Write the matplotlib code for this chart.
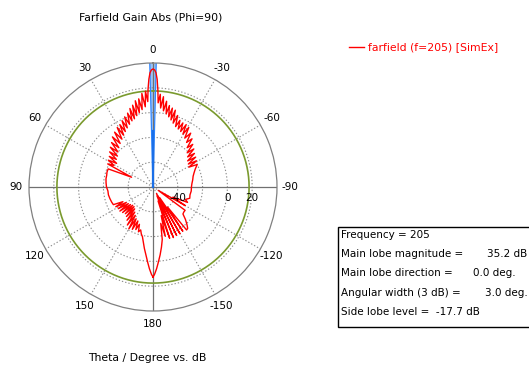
import numpy as np
import matplotlib.pyplot as plt
from matplotlib.patches import Rectangle

# farfield cut (phi=90), theta in degrees, gain in dB
theta_deg = [
    -180, -179, -177.5, -176, -174, -172, -170, -168, -166, -164, -162, -160,
    -158, -156, -154, -152, -150, -148, -146, -144, -142, -140, -138, -135,
    -132, -129, -126, -123, -120, -117, -114, -111, -107, -102, -96, -90,
    -85, -80, -75, -71, -67, -63, -61, -59, -57, -55, -53, -51, -49, -47,
    -45, -43, -41, -39, -37, -35, -33, -31, -29.5, -28, -26.5, -25, -23.5,
    -22, -20.5, -19, -17.5, -16.2, -15, -13.8, -12.6, -11.4, -10.2, -9,
    -7.8, -6.6, -5.5, -4.5, -3.5, -2.9, -2.2, -1.5, -0.8, 0,
    0.8, 1.5, 2.2, 2.9, 3.5, 4.5, 5.5, 6.8, 8, 9.2, 10.4, 11.6, 12.8, 14,
    15.2, 16.4, 17.6, 19, 20.5, 22, 23.5, 25, 26.5, 28, 29.5, 31, 33, 35,
    37, 39, 41, 43, 45, 47, 49, 51, 53, 55, 57, 59, 61, 63, 65.5, 68, 72,
    76, 80, 85, 90, 95, 100, 105, 110, 114, 116, 118, 120, 122, 124, 126,
    128, 130, 132, 134, 136, 138, 140, 142, 144, 146, 148, 150, 152, 154,
    156, 158, 160, 162, 164, 166, 168, 170, 172, 174, 176, 177.5, 179, 180,
]
gain_db = [
    12.6, 10.5, 6, 1, -5, -11, -17, -30, -19, -36, -16.5, -48,
    -16, -52, -16.5, -54, -16.5, -50, -17, -40, -16, -16.5, -19, -23,
    -27.5, -28, -28, -55, -30, -42, -29.5, -32, -29, -29.5, -29, -29,
    -28.5, -27.5, -26.5, -25, -23, -20, -27, -19, -26, -18, -25, -17, -23, -15,
    -21, -13, -18, -10, -15, -7, -13, -4, -11, -3, -10, -3, -9,
    -2, -8, 1, -6, 4.5, -4, 5.5, -2, 7, 0, 10,
    2, 13.3, 4, 15, 8, 18, 27, 32.2, 34.4, 35.2,
    34.4, 32.2, 27, 19, 9, 17.5, 5, 16, 3, 12, 1, 11, -1, 8,
    -3, 6, -4, 3, -6, 1, -8, -1, -10, -3, -12, -4, -14, -6,
    -16, -8, -18, -11, -20, -13, -22, -15, -23, -17, -25, -18, -24, -19, -41, -21, -21,
    -21.5, -21.5, -22, -22.5, -23.5, -23.5, -24, -24.5, -25, -33, -26, -35, -27, -36, -27,
    -37, -28, -38, -29, -38, -28, -37, -26, -35, -23, -33, -21, -31, -22,
    -30, -23, -28, -22, -24, -21, -19, -15, -10, -5, 1, 6, 10.5, 12.6,
]

main_lobe_db = 35.2
side_lobe_rel = -17.7
beam_width = 3.0

r_min, r_max = -60, 40
ring_values = [-40, -20, 0, 20]
ring_labels = ['-40', '', '0', '20']
theta_ticks = [0, 30, 60, 90, 120, 150, 180, -150, -120, -90, -60, -30]

info_labels = ['Frequency = 205', 'Main lobe magnitude =', 'Main lobe direction =',
               'Angular width (3 dB) =', 'Side lobe level =  -17.7 dB']
info_values = ['', '35.2 dB', '0.0 deg.', '3.0 deg.', '']
info_value_x = [0, 487, 473, 485, 0]

fs = 7.5
fs_title = 7.8
W, H = 529, 370
fig = plt.figure(figsize=(W / 100, H / 100), dpi=100)
ax = fig.add_axes([29 / W, 59 / H, 248 / W, 248 / H], projection='polar')
ax.set_theta_zero_location('N')
ax.set_theta_direction(1)
ax.set_ylim(r_min, r_max)
ax.set_xticks([])
ax.set_yticks([])
ax.grid(False)
ax.spines['polar'].set_color('#808080')
ax.spines['polar'].set_linewidth(0.9)

circ = np.linspace(0, 2 * np.pi, 361)
for rv in ring_values:
    ax.plot(circ, np.full_like(circ, rv), color='#8c8c8c', lw=0.8, ls=(0, (1.2, 1.8)))
for t in theta_ticks:
    if t % 90 == 0:
        continue
    ax.plot([np.deg2rad(t)] * 2, [r_min, r_max], color='#8c8c8c', lw=0.8, ls=(0, (1.2, 1.8)))
for t in [0, 90, 180, 270]:
    ax.plot([np.deg2rad(t)] * 2, [r_min, r_max], color='#707070', lw=0.9)

# side lobe level circle
sll = main_lobe_db + side_lobe_rel
ax.plot(circ, np.full_like(circ, sll), color='#7a9a2e', lw=1.2)

# beam width wedge and main lobe direction
hw = np.deg2rad(beam_width / 2)
ax.fill([-hw, hw, hw, -hw], [r_min, r_min, r_max, r_max], color='#9cc2f5', lw=0)
ax.plot([-hw, -hw], [r_min, r_max], color='#2f86ff', lw=0.9)
ax.plot([hw, hw], [r_min, r_max], color='#2f86ff', lw=0.9)
ax.plot([0, 0], [r_min, -15], color='#1a6fe8', lw=1.6)

ax.plot(np.deg2rad(theta_deg), gain_db, color='red', lw=1.0)

for t in theta_ticks:
    ax.text(np.deg2rad(t), 50.5, str(t), ha='center', va='center', fontsize=fs, clip_on=False)
for rv, lab in zip(ring_values, ring_labels):
    ax.annotate(lab, (np.deg2rad(-90), rv), xytext=(0, -4), textcoords='offset points',
                ha='center', va='top', fontsize=fs)

fig.text(151 / W, 1 - 17 / H, 'Farfield Gain Abs (Phi=90)', ha='center', va='center', fontsize=fs_title)
fig.text(147 / W, 1 - 358 / H, 'Theta / Degree vs. dB', ha='center', va='center', fontsize=fs_title)

fig.add_artist(plt.Line2D([349 / W, 364 / W], [1 - 47 / H] * 2, color='red', lw=1))
fig.text(368 / W, 1 - 47 / H, 'farfield (f=205) [SimEx]', color='red', ha='left', va='center',
         fontsize=fs_title)

fig.add_artist(Rectangle((338 / W, 1 - 327 / H), 0.5, 100 / H, transform=fig.transFigure,
                         facecolor='white', edgecolor='black', lw=1))
row_y = [235, 254.3, 273.3, 292.7, 311.7]
for lab, val, vx, y in zip(info_labels, info_values, info_value_x, row_y):
    fig.text(341 / W, 1 - y / H, lab, ha='left', va='center', fontsize=fs)
    if val:
        fig.text(vx / W, 1 - y / H, val, ha='left', va='center', fontsize=fs)

fig.savefig('out.png', dpi=100)
